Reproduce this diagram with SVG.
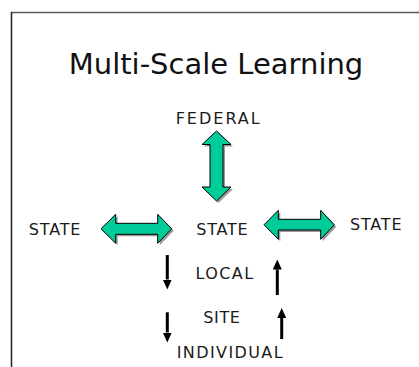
<svg xmlns="http://www.w3.org/2000/svg" width="419" height="367" viewBox="0 0 419 367">
  <style>
    .label { font-family: "DejaVu Sans", "Liberation Sans", sans-serif; font-size: 16px; fill: #1a1a1a; text-anchor: middle; }
    .title { font-family: "DejaVu Sans", "Liberation Sans", sans-serif; font-size: 29px; fill: #111; text-anchor: middle; }
    .big { fill: #00cc99; stroke: #000; stroke-width: 1; stroke-linejoin: miter; }
    .shadow { fill: #9a9a9a; }
    .flow { stroke: #000; stroke-width: 3; fill: none; marker-end: url(#head); }
  </style>
  <defs>
    <marker id="head" viewBox="0 0 10 9" markerWidth="10" markerHeight="9" refX="0" refY="4.5" orient="auto" markerUnits="userSpaceOnUse">
      <path d="M0,0 L10,4.5 L0,9 Z" fill="#000"/>
    </marker>
    <polygon id="dbl-v" points="216.5,131 231,144.5 223,144.5 223,187 231,187 216.5,201 202,187 210,187 210,144.5 202,144.5"/>
    <polygon id="dbl-w" points="101,228.8 115.7,214.3 115.7,223.3 157.7,223.3 157.7,214.3 171.7,228.8 157.7,243.3 157.7,234.3 115.7,234.3 115.7,243.3"/>
    <polygon id="dbl-e" points="264,224.8 278.3,210.3 278.3,219.3 320.7,219.3 320.7,210.3 334.3,224.8 320.7,239.3 320.7,230 278.3,230 278.3,239.3"/>
  </defs>

  <rect width="419" height="367" fill="#fff"/>

  <!-- frame -->
  <line x1="11" y1="12.5" x2="419" y2="12.5" stroke="#5a5a5a" stroke-width="1.5"/>
  <line x1="11.5" y1="12" x2="11.5" y2="367" stroke="#222" stroke-width="1.5"/>

  <text class="title" x="216" y="74">Multi-Scale Learning</text>

  <g id="connectors">
    <use href="#dbl-v" class="shadow" transform="translate(2,2)"/>
    <use href="#dbl-v" class="big"/>
    <use href="#dbl-w" class="shadow" transform="translate(2,2)"/>
    <use href="#dbl-w" class="big"/>
    <use href="#dbl-e" class="shadow" transform="translate(2,2)"/>
    <use href="#dbl-e" class="big"/>
    <line class="flow" x1="167.3" y1="255" x2="167.3" y2="279.5"/>
    <line class="flow" x1="167.3" y1="312.3" x2="167.3" y2="332.5"/>
    <line class="flow" x1="277.3" y1="295" x2="277.3" y2="269.5"/>
    <line class="flow" x1="281.7" y1="339" x2="281.7" y2="318"/>
  </g>

  <g id="federal"><text class="label" x="218.7" y="124.3" font-size="15" letter-spacing="2">FEDERAL</text></g>
  <g id="state-west"><text class="label" x="55" y="235" letter-spacing="0.8">STATE</text></g>
  <g id="state-center"><text class="label" x="222.4" y="235" letter-spacing="0.8">STATE</text></g>
  <g id="state-east"><text class="label" x="376.2" y="230" letter-spacing="0.8">STATE</text></g>
  <g id="local"><text class="label" x="225" y="279.3" letter-spacing="1.45">LOCAL</text></g>
  <g id="site"><text class="label" x="221.9" y="323.3" letter-spacing="0.6">SITE</text></g>
  <g id="individual"><text class="label" x="230.4" y="357.7" letter-spacing="1.4">INDIVIDUAL</text></g>
</svg>
